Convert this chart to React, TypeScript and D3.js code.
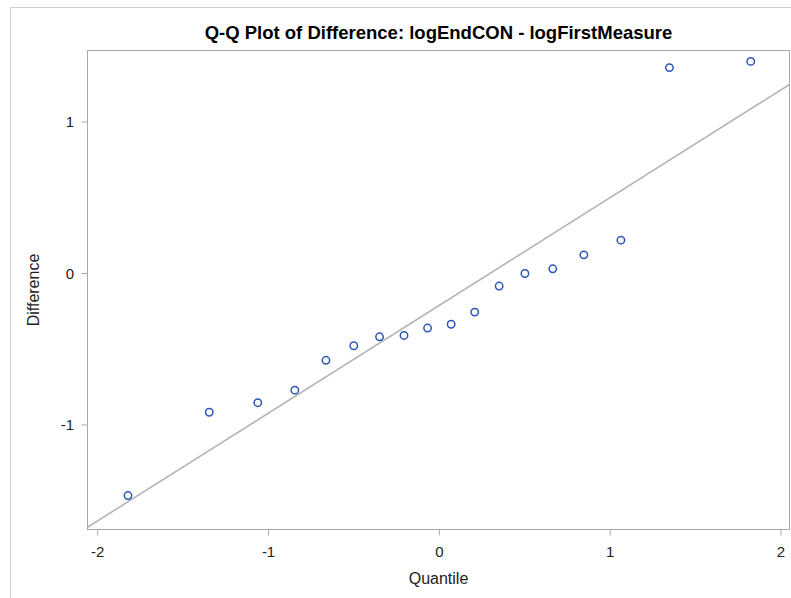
import React from "react";
import * as d3 from "d3";

// Normal quantiles (Blom scores) and sorted differences, n = 18
const quantiles = [
  -1.823, -1.347, -1.063, -0.846, -0.664, -0.501, -0.350, -0.207, -0.069,
  0.069, 0.207, 0.350, 0.501, 0.664, 0.846, 1.063, 1.347, 1.823,
];
const differences = [
  -1.466, -0.916, -0.853, -0.770, -0.573, -0.477, -0.418, -0.409, -0.360,
  -0.335, -0.255, -0.083, 0.0, 0.031, 0.123, 0.220, 1.359, 1.400,
];
const xTicks = [-2, -1, 0, 1, 2];
const yTicks = [-1, 0, 1];

const title = "Q-Q Plot of Difference: logEndCON - logFirstMeasure";
const xLabel = "Quantile";
const yLabel = "Difference";

const W = 791;
const H = 598;
const frame = { left: 87.5, right: 789.5, top: 50.5, bottom: 529.5 };
const font = "'Liberation Sans', Arial, sans-serif";

export default function App() {
  const x = d3.scaleLinear().domain([-2.06, 2.05]).range([frame.left, frame.right]);
  const y = d3.scaleLinear().domain([-1.69, 1.472]).range([frame.bottom, frame.top]);

  // Reference line: mu and sigma estimated from the sample
  const mu = d3.mean(differences) as number;
  const sigma = d3.deviation(differences) as number;
  const [x0, x1] = x.domain();
  const line = d3.line<number>().x((q) => x(q)).y((q) => y(mu + sigma * q));

  return (
    <svg
      width={W}
      height={H}
      style={{ position: "absolute", left: 0, top: 0, background: "#fff" }}
    >
      <rect x={10.5} y={7.5} width={W + 20} height={H + 20} fill="#fff" stroke="#d0d0d0" />
      <text
        x={(frame.left + frame.right) / 2}
        y={39}
        textAnchor="middle"
        fontFamily={font}
        fontWeight="bold"
        fontSize={18.5}
        fill="#000"
      >
        {title}
      </text>

      <defs>
        <clipPath id="plotArea">
          <rect
            x={frame.left}
            y={frame.top}
            width={frame.right - frame.left}
            height={frame.bottom - frame.top}
          />
        </clipPath>
      </defs>

      <path
        d={line([x0, x1]) ?? ""}
        fill="none"
        stroke="#b5b5b5"
        strokeWidth={1.6}
        clipPath="url(#plotArea)"
      />

      {quantiles.map((q, i) => (
        <circle
          key={i}
          cx={x(q)}
          cy={y(differences[i])}
          r={3.7}
          fill="none"
          stroke="#2a56b8"
          strokeWidth={1.5}
        />
      ))}

      <rect
        x={frame.left}
        y={frame.top}
        width={frame.right - frame.left}
        height={frame.bottom - frame.top}
        fill="none"
        stroke="#a8a8a8"
      />

      {xTicks.map((t) => (
        <g key={`x${t}`}>
          <line x1={x(t)} x2={x(t)} y1={frame.bottom} y2={frame.bottom + 6} stroke="#a8a8a8" />
          <text
            x={x(t)}
            y={frame.bottom + 27.5}
            textAnchor="middle"
            fontFamily={font}
            fontSize={15}
            fill="#222"
          >
            {t}
          </text>
        </g>
      ))}
      {yTicks.map((t) => (
        <g key={`y${t}`}>
          <line x1={frame.left - 6} x2={frame.left} y1={y(t)} y2={y(t)} stroke="#a8a8a8" />
          <text
            x={frame.left - 13.5}
            y={y(t)}
            dy="0.36em"
            textAnchor="end"
            fontFamily={font}
            fontSize={15}
            fill="#222"
          >
            {t}
          </text>
        </g>
      ))}

      <text
        x={(frame.left + frame.right) / 2}
        y={583.5}
        textAnchor="middle"
        fontFamily={font}
        fontSize={16}
        fill="#222"
      >
        {xLabel}
      </text>
      <text
        transform={`translate(39,${(frame.top + frame.bottom) / 2}) rotate(-90)`}
        textAnchor="middle"
        fontFamily={font}
        fontSize={16}
        fill="#222"
      >
        {yLabel}
      </text>
    </svg>
  );
}
